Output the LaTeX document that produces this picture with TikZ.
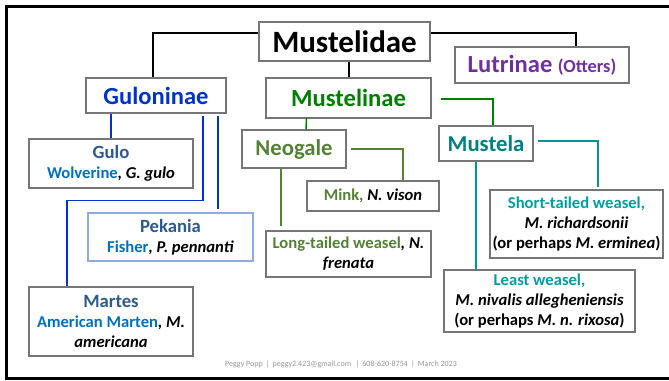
\documentclass[tikz,border=0pt]{standalone}
\usepackage{fontspec}
\setmainfont{Carlito}
\definecolor{gulbl}{RGB}{0,51,204}
\definecolor{titbl}{RGB}{46,90,140}
\definecolor{combl}{RGB}{0,112,192}
\definecolor{musgr}{RGB}{0,128,0}
\definecolor{neogr}{RGB}{84,130,53}
\definecolor{teal1}{RGB}{0,128,128}
\definecolor{teal2}{RGB}{0,160,160}
\definecolor{tealln}{RGB}{0,150,150}
\definecolor{lutpu}{RGB}{112,48,160}
\definecolor{boxgr}{RGB}{118,118,118}
\definecolor{pekbd}{RGB}{143,170,220}
\definecolor{footgr}{RGB}{150,150,150}
\newcommand{\fsz}[2]{\fontsize{#1}{#2}\selectfont}
\newcommand{\spn}[1]{\textbf{\textit{#1}}}
\tikzset{
  box/.style={draw=boxgr, line width=1.1pt, fill=white, inner sep=0pt, align=center},
  small/.style={font=\bfseries\fsz{16.6}{20}},
  kline/.style={draw=black, line width=1.6pt},
  bline/.style={draw=gulbl, line width=1.5pt},
  gline/.style={draw=musgr, line width=1.5pt},
  nline/.style={draw=neogr, line width=1.5pt},
  tline/.style={draw=tealln, line width=1.7pt},
}
\begin{document}
\begin{tikzpicture}[x=1pt,y=-1pt]
\useasboundingbox (0,0) rectangle (669,380);
\fill[white] (0,0) rectangle (669,380);
\draw[line width=2.6pt] (6.3,6.3) rectangle (675,378.7);

% nodes
\node[box, minimum width=171pt, minimum height=39pt, font=\bfseries\fsz{31}{34}] (mustelidae) at (344.5,41.5) {Mustelidae};
\node[box, minimum width=174pt, minimum height=36pt, text=lutpu, font=\bfseries\fsz{24.6}{28}] (lutrinae) at (542,65) {Lutrinae {\fsz{18.4}{20}(Otters)}};
\node[box, minimum width=140pt, minimum height=35pt, text=gulbl, font=\bfseries\fsz{24.6}{28}] (guloninae) at (156,95.5) {Guloninae};
\node[box, minimum width=165pt, minimum height=40pt, text=musgr, font=\bfseries\fsz{24.6}{28}] (mustelinae) at (348.5,98) {Mustelinae};
\node[box, minimum width=104pt, minimum height=38pt, text=neogr, font=\bfseries\fsz{22.7}{26}] (neogale) at (294,149) {Neogale};
\node[box, minimum width=94pt, minimum height=35pt, text=teal1, font=\bfseries\fsz{22.7}{26}] (mustela) at (486,143.5) {Mustela};

\node[box, small, minimum width=164pt, minimum height=49pt] (gulo) at (111,163.5)
  {{\fsz{18.7}{20}\textcolor{titbl}{Gulo}}\\ \textcolor{combl}{Wolverine}\spn{, G. gulo}};
\node[box, small, draw=pekbd, minimum width=165pt, minimum height=48pt] (pekania) at (170.5,237)
  {{\fsz{18.7}{20}\textcolor{titbl}{Pekania}}\\ \textcolor{combl}{Fisher}\spn{, P. pennanti}};
\node[box, small, minimum width=164pt, minimum height=69pt] (martes) at (111,321.5)
  {{\fsz{18.7}{20}\textcolor{titbl}{Martes}}\\ \textcolor{combl}{American Marten}\spn{, M.}\\ \spn{americana}};
\node[box, small, minimum width=132pt, minimum height=30pt] (mink) at (373,196)
  {\textcolor{neogr}{Mink, }\spn{N. vison}};
\node[box, small, minimum width=165pt, minimum height=46pt] (longtailed) at (348.5,254)
  {\textcolor{neogr}{Long-tailed weasel}\spn{, N.}\\ \spn{frenata}};
\node[box, small, minimum width=173pt, minimum height=68pt] (short) at (576.5,224)
  {\textcolor{teal2}{Short-tailed weasel,}\\ \spn{M. richardsonii}\\ (or perhaps \spn{M. erminea})};
\node[box, small, minimum width=191pt, minimum height=62pt] (least) at (539.5,301)
  {\textcolor{teal2}{Least weasel,}\\ \spn{M. nivalis allegheniensis}\\ (or perhaps \spn{M. n. rixosa})};

\node[text=footgr, font=\fsz{8}{9}] (footer) at (341,364.5) {Peggy Popp \,|\, peggy2.423@gmail.com \,\,|\, 608-620-8754 \,|\, March 2023};

% connectors
\draw[kline] ([yshift=8.5pt]mustelidae.west) -| ([xshift=-3pt]guloninae.north);
\draw[kline] ([yshift=8.5pt]mustelidae.east) -| ([xshift=34pt]lutrinae.north);
\draw[kline] ([xshift=4.5pt]mustelidae.south) -- ([xshift=0.5pt]mustelinae.north);

\draw[bline] (gulo.north) -- (gulo.north |- guloninae.south);
\draw[bline] ([xshift=62pt,yshift=-2.5pt]guloninae.south) -- ([xshift=47.5pt,yshift=3pt]pekania.north);
\draw[bline] ([xshift=47pt,yshift=-2pt]guloninae.south) |- ([xshift=-44pt,yshift=86pt]martes.north) -- ([xshift=-44pt]martes.north);

\draw[gline] ([xshift=12pt]neogale.north) -- ([xshift=12.5pt,yshift=12pt]neogale.north);
\draw[gline] ([xshift=9pt,yshift=-1pt]mustelinae.east) -| ([xshift=7pt]mustela.north);

\draw[nline] ([xshift=4pt]neogale.east) -| ([xshift=30pt]mink.north);
\draw[nline] ([xshift=-13pt]neogale.south) -- ([xshift=-67.5pt,yshift=4pt]longtailed.north);

\draw[tline] ([xshift=4pt,yshift=2.5pt]mustela.east) -| ([xshift=21.5pt,yshift=2pt]short.north);
\draw[tline] ([xshift=-10pt]mustela.south) -- ([xshift=-63.5pt]least.north);
\end{tikzpicture}
\end{document}
